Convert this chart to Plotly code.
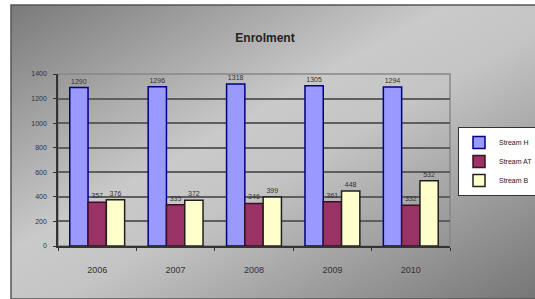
import base64
import plotly.graph_objects as go

years = ["2006", "2007", "2008", "2009", "2010"]
series_names = ["Stream H", "Stream AT", "Stream B"]
s1 = [1290, 1296, 1318, 1305, 1294]
s2 = [357, 335, 346, 361, 332]
s3 = [376, 372, 399, 448, 532]
colors = ["#9999ff", "#993366", "#ffffcc"]
outlines = ["#000080", "#3a1025", "#202020"]

W, H = 535, 299
L, R, T, B = 58, 450, 74, 246  # plot area in px
pw, ph = R - L, B - T

fig = go.Figure()
for name, vals, c, oc in zip(series_names, [s1, s2, s3], colors, outlines):
    fig.add_trace(go.Bar(
        x=years, y=vals, name=name,
        marker=dict(color=c, line=dict(color=oc, width=1.5)),
        text=[str(v) for v in vals], textposition="outside",
        textfont=dict(size=7, color="#333333"),
        cliponaxis=False,
    ))

svg = ("<svg xmlns='http://www.w3.org/2000/svg' width='524' height='294' "
       "viewBox='0 0 524 294' preserveAspectRatio='none'>"
       "<defs><linearGradient id='g' x1='0' y1='0' x2='1' y2='1'>"
       "<stop offset='0' stop-color='#7a7a7a'/>"
       "<stop offset='0.42' stop-color='#cacaca'/>"
       "<stop offset='0.55' stop-color='#c4c4c4'/>"
       "<stop offset='1' stop-color='#767676'/>"
       "</linearGradient></defs>"
       "<rect width='524' height='294' fill='url(#g)'/></svg>")
src = "data:image/svg+xml;base64," + base64.b64encode(svg.encode()).decode()

x0 = (11 - L) / pw
y1 = 1 + (T - 5) / ph
fig.add_layout_image(dict(
    source=src, xref="paper", yref="paper",
    x=x0, y=y1, sizex=(W - 11) / pw, sizey=(H - 5) / ph,
    xanchor="left", yanchor="top", sizing="stretch", layer="below",
))
fig.add_shape(type="rect", xref="paper", yref="paper",
              x0=x0, y0=y1 - (H - 5) / ph, x1=x0 + (W - 11) / pw + 0.01, y1=y1,
              line=dict(color="#555555", width=1.5), layer="below")

fig.update_layout(
    width=W, height=H,
    margin=dict(l=L, r=W - R, t=T, b=H - B, pad=0, autoexpand=False),
    paper_bgcolor="white",
    plot_bgcolor="#d9d9d9",
    font=dict(family="Liberation Sans, Arial, sans-serif", color="#222222"),
    title=dict(text="<b>Enrolment</b>", x=265 / W, xanchor="center",
               y=1 - 38 / H, yanchor="middle", font=dict(size=12, color="#222222")),
    barmode="group", bargap=0.3, bargroupgap=0.0,
    showlegend=True,
    legend=dict(xref="container", yref="container",
                x=458 / W, y=1 - 127 / H, xanchor="left", yanchor="top",
                bgcolor="white", bordercolor="#333333", borderwidth=1,
                font=dict(size=7, color="#222222"), itemwidth=30,
                tracegroupgap=4),
    xaxis=dict(showline=True, linecolor="#333333", linewidth=1.5, mirror=False,
               ticks="outside", tickson="boundaries", ticklen=3, tickcolor="#333333",
               tickfont=dict(size=9, color="#333333"), showgrid=False,
               ticklabelstandoff=14),
    yaxis=dict(range=[0, 1400], dtick=200, showline=True, linecolor="#333333", linewidth=1.5,
               ticks="outside", ticklen=3, tickcolor="#333333",
               tickfont=dict(size=7, color="#333333"), ticklabelstandoff=5,
               showgrid=True, gridcolor="#5e5e5e", gridwidth=1.5, zeroline=False),
)
fig.add_shape(type="rect", xref="paper", yref="paper", x0=0, y0=0, x1=1, y1=1,
              line=dict(color="#888888", width=1.5), layer="below")

fig.write_html("out.html", config={"displayModeBar": False},
               post_script="document.body.style.margin='0';document.body.style.overflow='hidden';")
